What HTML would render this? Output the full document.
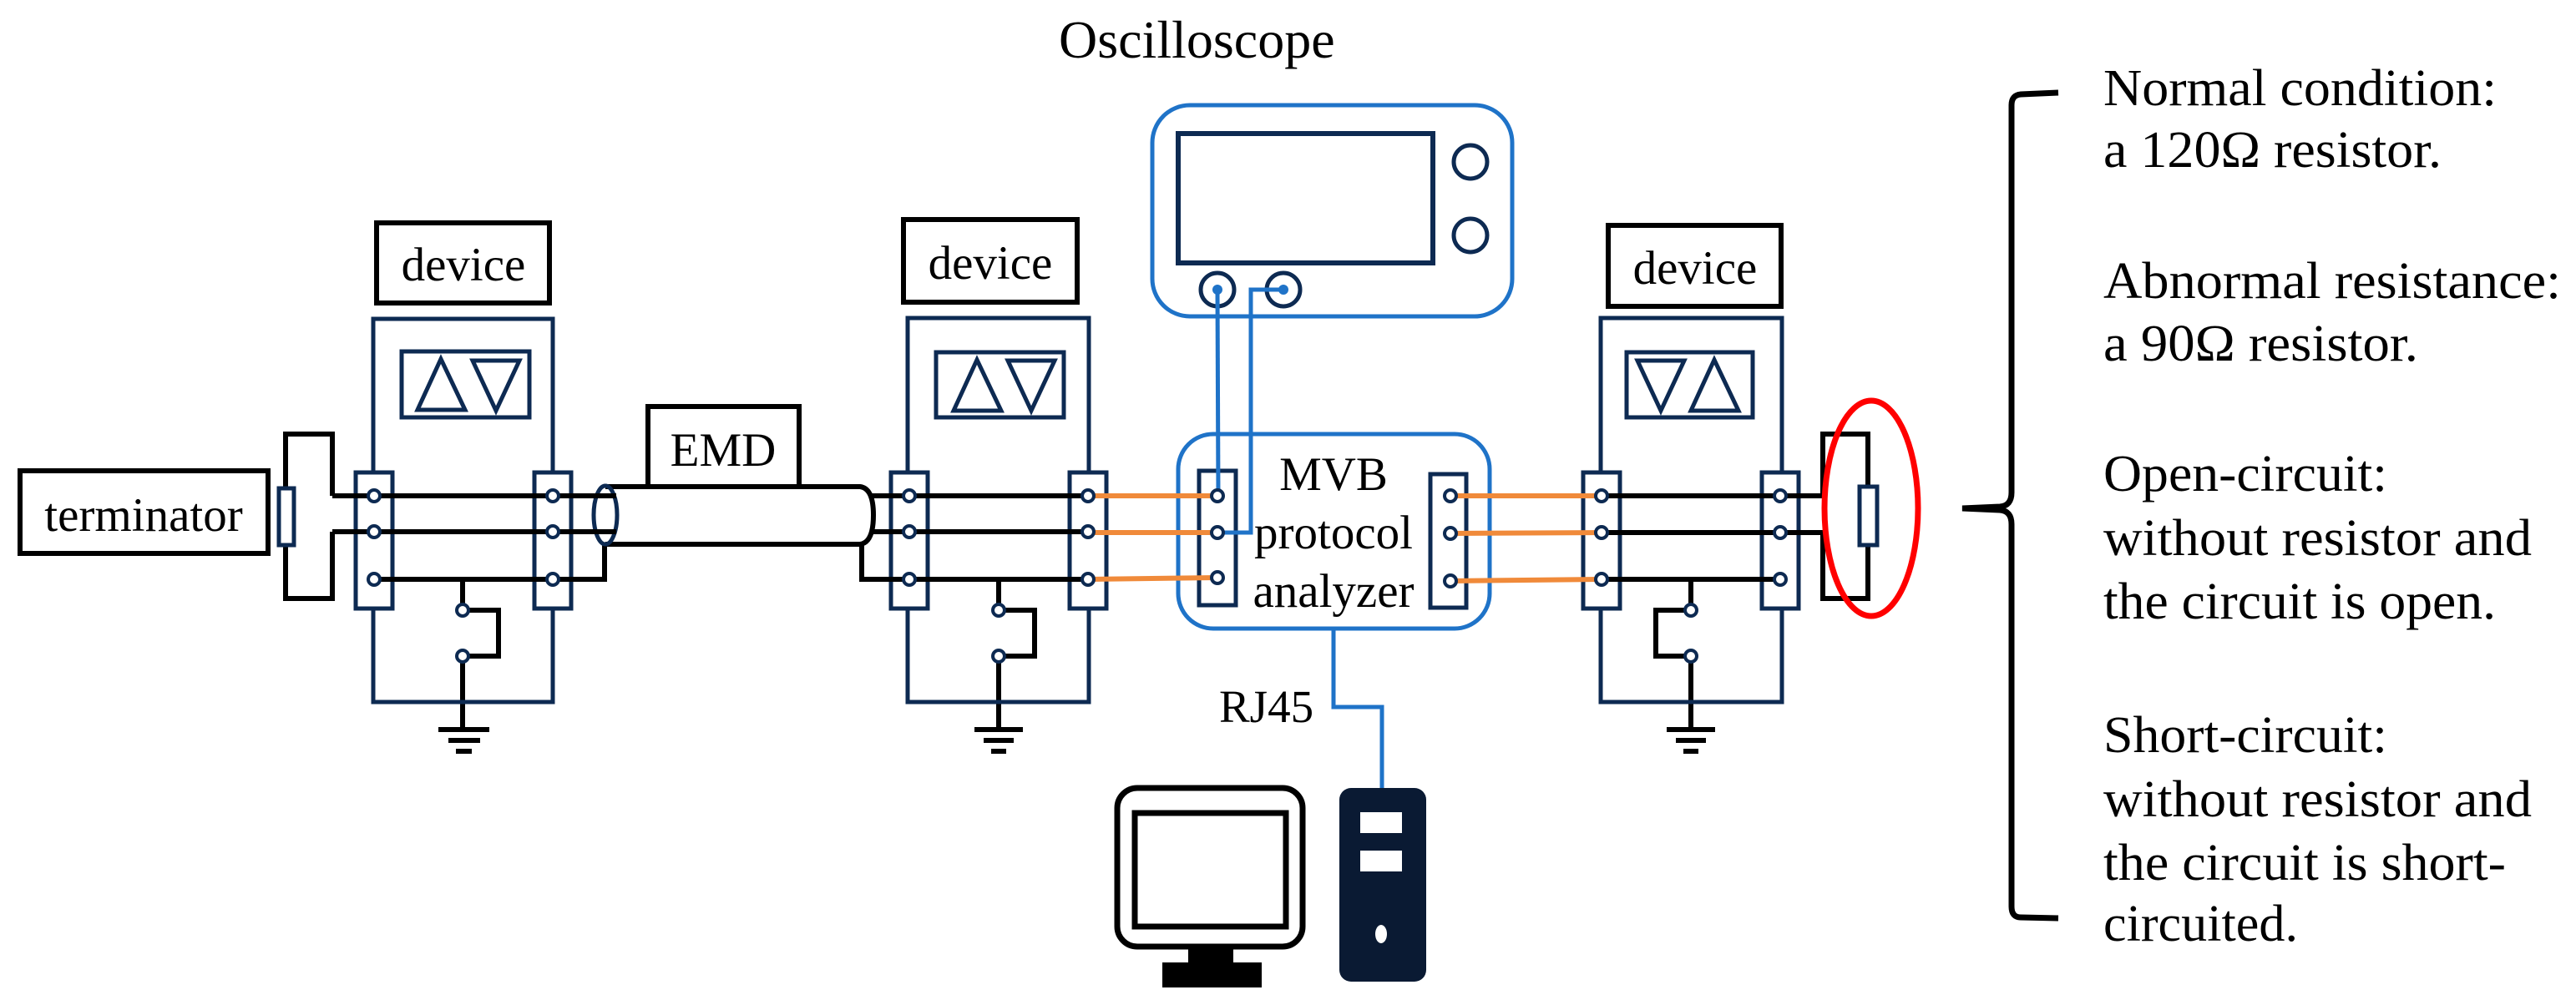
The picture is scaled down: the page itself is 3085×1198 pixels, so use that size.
<!DOCTYPE html>
<html><head><meta charset="utf-8"><style>
html,body{margin:0;padding:0;background:#fff;}
svg{display:block;}
svg text{font-family:"Liberation Serif","Times New Roman","DejaVu Serif",serif !important;fill:#000;}
</style></head><body>
<svg width="3085" height="1198" viewBox="0 0 3085 1198" xmlns="http://www.w3.org/2000/svg" font-family="'Liberation Serif', 'Times New Roman', 'DejaVu Serif', serif">
<defs>
<g id="strip"><rect x="0" y="0" width="44" height="163" fill="#fff" stroke="#0d2a52" stroke-width="5"/></g>
</defs>
<text x="1268" y="69" font-size="64" font-family="Liberation Serif, serif">Oscilloscope</text>

<g stroke="#000" stroke-width="6" fill="none">
 <polyline points="398,594 398,520 342,520 342,717 398,717 398,637"/>
 <line x1="398" y1="594" x2="738" y2="594"/>
 <line x1="398" y1="637" x2="738" y2="637"/>
 <polyline points="448,694 724,694 724,652"/>
 <polyline points="554,694 554,731"/>
 <polyline points="554,731 597,731 597,786 554,786 554,874"/>
 <line x1="1040" y1="594" x2="1303" y2="594"/>
 <line x1="1040" y1="637" x2="1303" y2="637"/>
 <polyline points="1032,652 1032,694 1303,694"/>
 <polyline points="1196,694 1196,731 1239,731 1239,786 1196,786 1196,874"/>
 <line x1="1918" y1="594" x2="2183" y2="594"/>
 <line x1="1918" y1="638" x2="2183" y2="638"/>
 <line x1="1918" y1="694" x2="2132" y2="694"/>
 <polyline points="2025,694 2025,731 1983,731 1983,786 2025,786 2025,874"/>
 <polyline points="2183,594 2183,520 2237,520 2237,717 2183,717 2183,638"/>
 <g stroke-width="6">
  <line x1="525" y1="874" x2="586" y2="874"/><line x1="537" y1="887" x2="575" y2="887"/><line x1="546" y1="900" x2="565" y2="900"/>
  <line x1="1167" y1="874" x2="1225" y2="874"/><line x1="1178" y1="887" x2="1214" y2="887"/><line x1="1187" y1="900" x2="1205" y2="900"/>
  <line x1="1996" y1="874" x2="2054" y2="874"/><line x1="2007" y1="887" x2="2043" y2="887"/><line x1="2016" y1="900" x2="2034" y2="900"/>
 </g>
</g>

<path d="M725,583 L1030,583 Q1046,585 1046,617 Q1046,650 1030,652 L725,652" fill="#fff" stroke="#000" stroke-width="6"/>
<ellipse cx="725" cy="617" rx="14" ry="35" fill="none" stroke="#0d2a52" stroke-width="5"/>
<line x1="711" y1="594" x2="738" y2="594" stroke="#000" stroke-width="6"/>
<line x1="711" y1="637" x2="738" y2="637" stroke="#000" stroke-width="6"/>
<rect x="776" y="487" width="181" height="96" fill="#fff" stroke="#000" stroke-width="6"/>
<text x="866" y="558" font-size="57" text-anchor="middle" font-family="Liberation Serif, serif">EMD</text>

<rect x="24" y="564" width="297" height="99" fill="#fff" stroke="#000" stroke-width="6"/>
<text x="172" y="636" font-size="57" text-anchor="middle" font-family="Liberation Serif, serif">terminator</text>
<rect x="334" y="585" width="18" height="68" fill="#fff" stroke="#0d2a52" stroke-width="5"/>

<g fill="none" stroke="#0d2a52" stroke-width="5">
 <rect x="447" y="382" width="215" height="459"/>
 <rect x="481" y="421" width="153" height="79"/>
 <polygon points="528,430 500,491 557,491"/>
 <polygon points="566,432 622,432 594,492"/>
 <rect x="1087" y="381" width="217" height="460"/>
 <rect x="1121" y="422" width="153" height="78"/>
 <polygon points="1170,431 1142,492 1199,492"/>
 <polygon points="1207,432 1263,432 1235,492"/>
 <rect x="1917" y="381" width="217" height="460"/>
 <rect x="1948" y="422" width="151" height="78"/>
 <polygon points="1961,432 2017,432 1989,492"/>
 <polygon points="2053,431 2025,492 2082,492"/>
</g>
<g>
 <use href="#strip" x="426" y="566"/><use href="#strip" x="640" y="566"/>
 <use href="#strip" x="1067" y="566"/><use href="#strip" x="1281" y="566"/>
 <use href="#strip" x="1896" y="566"/><use href="#strip" x="2110" y="566"/>
</g>
<g stroke="#000" stroke-width="6">
 <line x1="398" y1="594" x2="711" y2="594"/><line x1="398" y1="637" x2="711" y2="637"/><line x1="448" y1="694" x2="724" y2="694"/>
 <line x1="1046" y1="594" x2="1303" y2="594"/><line x1="1046" y1="637" x2="1303" y2="637"/><line x1="1032" y1="694" x2="1303" y2="694"/>
 <line x1="1918" y1="594" x2="2183" y2="594"/><line x1="1918" y1="638" x2="2183" y2="638"/><line x1="1918" y1="694" x2="2132" y2="694"/>
</g>
<g fill="#fff" stroke="#000" stroke-width="6">
 <rect x="451" y="267" width="207" height="96"/>
 <rect x="1082" y="263" width="208" height="99"/>
 <rect x="1926" y="270" width="207" height="97"/>
</g>
<g font-family="Liberation Serif, serif" font-size="57" text-anchor="middle">
<text x="555" y="336">device</text>
<text x="1186" y="334">device</text>
<text x="2030" y="340">device</text>
</g>

<rect x="1411" y="520" width="373" height="233" rx="42" fill="#fff" stroke="#1f73c8" stroke-width="5"/>
<rect x="1436" y="564" width="44" height="161" fill="#fff" stroke="#0d2a52" stroke-width="5"/>
<rect x="1713" y="568" width="43" height="160" fill="#fff" stroke="#0d2a52" stroke-width="5"/>
<g font-family="Liberation Serif, serif" font-size="57" text-anchor="middle">
<text x="1597" y="587">MVB</text>
<text x="1597" y="657">protocol</text>
<text x="1597" y="727">analyzer</text>
</g>

<g stroke="#f08a3a" stroke-width="6">
 <line x1="1303" y1="594" x2="1458" y2="594"/><line x1="1303" y1="638" x2="1458" y2="638"/><line x1="1303" y1="694" x2="1458" y2="692"/>
 <line x1="1737" y1="594" x2="1918" y2="594"/><line x1="1737" y1="639" x2="1918" y2="638"/><line x1="1737" y1="696" x2="1918" y2="694"/>
</g>

<rect x="1380" y="126" width="431" height="253" rx="45" fill="#fff" stroke="#1f73c8" stroke-width="5"/>
<rect x="1411" y="160" width="305" height="155" fill="none" stroke="#0d2a52" stroke-width="6"/>
<circle cx="1761" cy="194" r="20" fill="none" stroke="#0d2a52" stroke-width="5"/>
<circle cx="1761" cy="282" r="20" fill="none" stroke="#0d2a52" stroke-width="5"/>
<circle cx="1458" cy="347" r="20" fill="none" stroke="#0d2a52" stroke-width="5"/>
<circle cx="1537" cy="347" r="20" fill="none" stroke="#0d2a52" stroke-width="5"/>
<g stroke="#1f73c8" stroke-width="5" fill="none">
 <polyline points="1458,347 1459,594"/>
 <polyline points="1537,347 1498,347 1498,638 1458,638"/>
 <polyline points="1597,753 1597,847 1655,847 1655,946"/>
</g>
<circle cx="1458" cy="347" r="6" fill="#1f73c8"/>
<circle cx="1537" cy="347" r="6" fill="#1f73c8"/>

<g fill="#fff" stroke="#0d2a52" stroke-width="4">
 <circle cx="448" cy="594" r="7"/><circle cx="448" cy="637" r="7"/><circle cx="448" cy="694" r="7"/>
 <circle cx="662" cy="594" r="7"/><circle cx="662" cy="637" r="7"/><circle cx="662" cy="694" r="7"/>
 <circle cx="1089" cy="594" r="7"/><circle cx="1089" cy="637" r="7"/><circle cx="1089" cy="694" r="7"/>
 <circle cx="1303" cy="594" r="7"/><circle cx="1303" cy="637" r="7"/><circle cx="1303" cy="694" r="7"/>
 <circle cx="1458" cy="594" r="7"/><circle cx="1458" cy="638" r="7"/><circle cx="1458" cy="692" r="7"/>
 <circle cx="1737" cy="594" r="7"/><circle cx="1737" cy="639" r="7"/><circle cx="1737" cy="696" r="7"/>
 <circle cx="1918" cy="594" r="7"/><circle cx="1918" cy="638" r="7"/><circle cx="1918" cy="694" r="7"/>
 <circle cx="2132" cy="594" r="7"/><circle cx="2132" cy="638" r="7"/><circle cx="2132" cy="694" r="7"/>
 <circle cx="554" cy="731" r="7"/><circle cx="554" cy="786" r="7"/>
 <circle cx="1196" cy="731" r="7"/><circle cx="1196" cy="786" r="7"/>
 <circle cx="2025" cy="731" r="7"/><circle cx="2025" cy="786" r="7"/>
</g>
<rect x="2227" y="583" width="21" height="70" fill="#fff" stroke="#0d2a52" stroke-width="5"/>
<ellipse cx="2241" cy="609" rx="56" ry="129" fill="none" stroke="#f00" stroke-width="7"/>

<text x="1460" y="865" font-size="55" font-family="Liberation Serif, serif">RJ45</text>

<rect x="1338" y="944" width="222" height="190" rx="24" fill="#fff" stroke="#000" stroke-width="7"/>
<rect x="1359" y="974" width="181" height="136" fill="none" stroke="#000" stroke-width="7"/>
<rect x="1423" y="1136" width="54" height="18" fill="#000"/>
<rect x="1392" y="1153" width="119" height="30" fill="#000"/>
<rect x="1604" y="944" width="104" height="232" rx="14" fill="#0a1a33"/>
<rect x="1629" y="973" width="50" height="25" fill="#fff"/>
<rect x="1629" y="1019" width="50" height="25" fill="#fff"/>
<ellipse cx="1654" cy="1119" rx="7" ry="11" fill="#fff"/>

<path d="M2465,111 L2420,113 Q2409,114 2409,126 L2409,590 Q2409,606 2395,607 L2350,609 L2395,611 Q2409,612 2409,628 L2409,1086 Q2409,1099 2420,1099 L2465,1100" fill="none" stroke="#000" stroke-width="7"/>

<g font-size="62" font-family="Liberation Serif, serif">
<text x="2519" y="126" textLength="471" lengthAdjust="spacingAndGlyphs">Normal condition:</text>
<text x="2519" y="200" textLength="405" lengthAdjust="spacingAndGlyphs">a 120Ω resistor.</text>
<text x="2519" y="357" textLength="548" lengthAdjust="spacingAndGlyphs">Abnormal resistance:</text>
<text x="2519" y="432" textLength="377" lengthAdjust="spacingAndGlyphs">a 90Ω resistor.</text>
<text x="2519" y="588" textLength="340" lengthAdjust="spacingAndGlyphs">Open-circuit:</text>
<text x="2519" y="665" textLength="513" lengthAdjust="spacingAndGlyphs">without resistor and</text>
<text x="2519" y="741" textLength="470" lengthAdjust="spacingAndGlyphs">the circuit is open.</text>
<text x="2519" y="901" textLength="340" lengthAdjust="spacingAndGlyphs">Short-circuit:</text>
<text x="2519" y="978" textLength="513" lengthAdjust="spacingAndGlyphs">without resistor and</text>
<text x="2519" y="1054" textLength="482" lengthAdjust="spacingAndGlyphs">the circuit is short-</text>
<text x="2519" y="1127" textLength="233" lengthAdjust="spacingAndGlyphs">circuited.</text>
</g>
</svg>
</body></html>
